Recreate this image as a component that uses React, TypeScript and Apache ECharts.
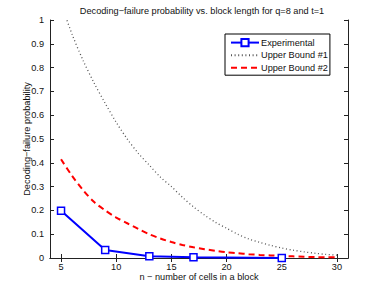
import React, { useEffect, useRef } from "react";
import * as echarts from "echarts";

const titleText = "Decoding\u2212failure probability vs. block length for q=8 and t=1";
const xName = "n \u2212 number of cells in a block";
const yName = "Decoding\u2212failure probability";

const xTicks = [5, 10, 15, 20, 25, 30];

const expN = [5, 9, 13, 17, 25];
const expVals = [0.199, 0.034, 0.007, 0.003, 0.0005];

const boundN = [5, 6, 7, 8, 9, 10, 11, 12, 13, 14, 15, 16, 17, 18, 19, 20, 21, 22, 23, 24, 25, 26, 27, 28, 29, 30];
const bound1Vals = [1.07, 0.94, 0.83, 0.735, 0.65, 0.57, 0.5, 0.44, 0.39, 0.34, 0.3, 0.255, 0.215, 0.18, 0.15, 0.125, 0.1, 0.08, 0.066, 0.053, 0.042, 0.033, 0.026, 0.02, 0.015, 0.012];
const bound2Vals = [0.415, 0.345, 0.285, 0.235, 0.2, 0.17, 0.146, 0.122, 0.1, 0.082, 0.067, 0.055, 0.045, 0.037, 0.03, 0.024, 0.02, 0.016, 0.013, 0.011, 0.009, 0.007, 0.005, 0.004, 0.003, 0.003];

const FONT = "Liberation Sans";
const FS = 9.2;

export default function App() {
  const ref = useRef<HTMLDivElement>(null);
  useEffect(() => {
    if (!ref.current) return;
    const chart = echarts.init(ref.current, undefined, { renderer: "svg" });
    const axisLine = { show: true, lineStyle: { color: "#222", width: 1 } };
    const tickStyle = { lineStyle: { color: "#222", width: 1 } };
    chart.setOption({
      animation: false,
      backgroundColor: "#fff",
      textStyle: { fontFamily: FONT },
      title: {
        text: titleText,
        left: 197,
        textAlign: "center",
        top: 1,
        textStyle: { fontFamily: FONT, fontSize: FS, fontWeight: "normal", color: "#111" },
      },
      grid: { left: 50, right: 38, top: 20, bottom: 33 },
      legend: {
        orient: "vertical",
        left: 225,
        top: 34,
        padding: [4, 2, 3, 5],
        itemGap: 3.5,
        itemWidth: 28,
        itemHeight: 9,
        borderColor: "#000",
        borderWidth: 1,
        borderRadius: 0,
        backgroundColor: "#fff",
        textStyle: { fontFamily: FONT, fontSize: FS, color: "#111", padding: [0, 0, 0, -3] },
        data: [
          { name: "Experimental" },
          { name: "Upper Bound #1", itemStyle: { opacity: 0 } },
          { name: "Upper Bound #2", itemStyle: { opacity: 0 } },
        ],
      },
      xAxis: [
        {
          type: "value",
          min: 4,
          max: 31,
          name: xName,
          nameLocation: "middle",
          nameGap: 14,
          nameMoveOverlap: false,
          nameTextStyle: { fontFamily: FONT, fontSize: FS, color: "#111" },
          axisLine,
          axisTick: { show: true, inside: true, length: 4, customValues: xTicks, ...tickStyle },
          axisLabel: { customValues: xTicks, fontFamily: FONT, fontSize: FS, color: "#111", margin: 4 },
          splitLine: { show: false },
        },
        {
          type: "value",
          position: "top",
          min: 4,
          max: 31,
          axisLine,
          axisTick: { show: true, inside: true, length: 4, customValues: xTicks, ...tickStyle },
          axisLabel: { show: false },
          splitLine: { show: false },
        },
      ],
      yAxis: [
        {
          type: "value",
          min: 0,
          max: 1,
          interval: 0.1,
          name: yName,
          nameLocation: "middle",
          nameGap: 19,
          nameMoveOverlap: false,
          nameTextStyle: { fontFamily: FONT, fontSize: FS, color: "#111" },
          axisLine,
          axisTick: { show: true, inside: true, length: 4, ...tickStyle },
          axisLabel: { fontFamily: FONT, fontSize: FS, color: "#111", margin: 6 },
          splitLine: { show: false },
        },
        {
          type: "value",
          position: "right",
          min: 0,
          max: 1,
          interval: 0.1,
          axisLine,
          axisTick: { show: true, inside: true, length: 4, ...tickStyle },
          axisLabel: { show: false },
          splitLine: { show: false },
        },
      ],
      series: [
        {
          name: "Experimental",
          type: "line",
          data: expN.map((n, i) => [n, expVals[i]]),
          symbol: "rect",
          symbolSize: 7,
          showAllSymbol: true,
          lineStyle: { color: "#0000ff", width: 2 },
          itemStyle: { color: "#ffffff", borderColor: "#0000ff", borderWidth: 1.5 },
          z: 5,
        },
        {
          name: "Upper Bound #1",
          type: "line",
          data: boundN.map((n, i) => [n, bound1Vals[i]]),
          symbol: "none",
          smooth: 0.3,
          clip: true,
          lineStyle: { color: "#555", width: 1.3, type: [1, 2.6] },
          itemStyle: { color: "#555" },
        },
        {
          name: "Upper Bound #2",
          type: "line",
          data: boundN.map((n, i) => [n, bound2Vals[i]]),
          symbol: "none",
          smooth: 0.3,
          lineStyle: { color: "#ff0000", width: 2, type: [6, 4] },
          itemStyle: { color: "#ff0000" },
        },
      ],
    });
    return () => chart.dispose();
  }, []);
  return (
    <div
      ref={ref}
      style={{ position: "fixed", left: 0, top: 0, width: 386, height: 291, background: "#fff" }}
    />
  );
}
